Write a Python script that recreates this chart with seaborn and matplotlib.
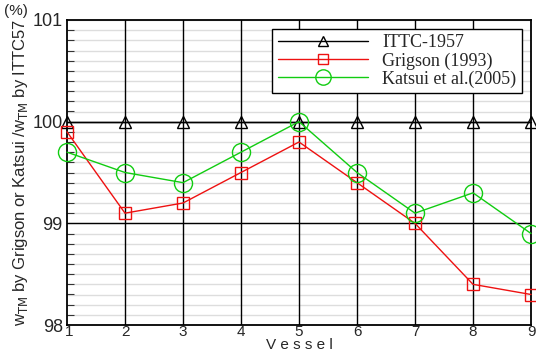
import matplotlib
matplotlib.use("Agg")
import matplotlib.pyplot as plt
import matplotlib.transforms as mtransforms
import seaborn as sns
import pandas as pd
import numpy as np
from matplotlib.ticker import MultipleLocator

vessels = [1, 2, 3, 4, 5, 6, 7, 8, 9]
ittc = [100, 100, 100, 100, 100, 100, 100, 100, 100]
grigson = [99.9, 99.1, 99.2, 99.5, 99.8, 99.4, 99.0, 98.4, 98.3]
katsui = [99.7, 99.5, 99.4, 99.7, 100.0, 99.5, 99.1, 99.3, 98.9]
series_names = ["ITTC-1957", "Grigson (1993)", "Katsui et al.(2005)"]

sns.set_style("white")
plt.rcParams['font.family'] = ['Liberation Sans', 'DejaVu Sans']

df = pd.DataFrame({"Vessel": vessels * 3,
                   "value": ittc + grigson + katsui,
                   "series": [series_names[0]] * 9 + [series_names[1]] * 9 + [series_names[2]] * 9})

fig = plt.figure(figsize=(5.36, 3.52), dpi=100)
ax = fig.add_axes([67/536, 1 - 325/352, (531-67)/536, (325-20)/352])

ax.set_xlim(1, 9)
ax.set_ylim(98, 101)

# minor grid
for y in np.arange(98.1, 101.0, 0.1):
    ax.axhline(y, color="#dddddd", lw=1, zorder=0)
for y in [99, 100]:
    ax.axhline(y, color="black", lw=1, zorder=1)
for x in vessels[1:-1]:
    ax.axvline(x, color="black", lw=1, zorder=1)

colors = {"ITTC-1957": "black", "Grigson (1993)": "#ee1111", "Katsui et al.(2005)": "#11cc11"}
markers = {"ITTC-1957": "^", "Grigson (1993)": "s", "Katsui et al.(2005)": "o"}
msizes = {"ITTC-1957": 9, "Grigson (1993)": 8, "Katsui et al.(2005)": 13}

for name in series_names:
    sub = df[df.series == name]
    sns.lineplot(data=sub, x="Vessel", y="value", ax=ax, color=colors[name],
                 marker=markers[name], markersize=msizes[name], markerfacecolor="none",
                 markeredgecolor=colors[name], markeredgewidth=1, lw=1, label=name,
                 zorder=3, clip_on=False)

ax.set_xticks(vessels)
ax.set_yticks([98, 99, 100, 101])
ax.set_yticklabels(["98", "99", "100", "101"])
ax.yaxis.set_minor_locator(MultipleLocator(0.1))
ax.tick_params(axis="y", which="minor", direction="in", length=5, width=0.8, left=True, color="#333333")
ax.tick_params(axis="y", which="major", direction="in", length=0, labelsize=13, pad=3)
ax.tick_params(axis="x", which="major", direction="in", length=0, labelsize=11, pad=0)
for s in ax.spines.values():
    s.set_color("black")
    s.set_linewidth(1.3)

fig.canvas.draw()
first = ax.get_xticklabels()[0]
first.set_transform(first.get_transform() + mtransforms.ScaledTranslation(2/100, 0, fig.dpi_scale_trans))

ax.set_xlabel("")
fig.text(299/536, 0.0, "V e s s e l", fontsize=11, ha="center", va="bottom")
ax.set_ylabel(r"w$_{\rm TM}$ by Grigson or Katsui /w$_{\rm TM}$ by ITTC57", fontsize=12, labelpad=2)
fig.text(4/536, 1 - 18/352, "(%)", fontsize=11, ha="left", va="bottom")

leg = ax.legend(loc="upper right", bbox_to_anchor=(1.0, 1.0), frameon=True, fancybox=False,
                edgecolor="black", framealpha=1, handlelength=5.0, borderpad=0.3,
                labelspacing=0.05, handletextpad=0.8,
                prop={"family": "Liberation Serif", "size": 13})
leg.get_frame().set_linewidth(1)
for h in leg.legend_handles:
    h.set_markersize(h.get_markersize() * 0.85)

fig.savefig("out.png", dpi=100)
